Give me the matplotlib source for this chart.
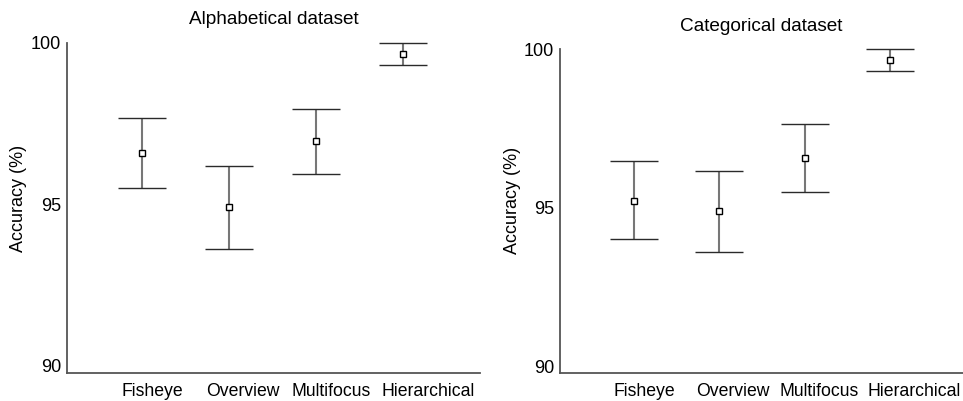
import matplotlib
matplotlib.use("Agg")
import matplotlib.pyplot as plt
import numpy as np

plt.rcParams['font.family'] = ['Liberation Sans', 'DejaVu Sans']

methods = ['Fisheye', 'Overview', 'Multifocus', 'Hierarchical']

# alphabetical dataset: mean, lower end, upper end of error bar
alpha_mean = [96.6, 94.92, 96.95, 99.67]
alpha_low = [95.52, 93.63, 95.93, 99.31]
alpha_high = [97.67, 96.19, 97.97, 100.0]

# categorical dataset
cat_mean = [95.22, 94.91, 96.58, 99.66]
cat_low = [94.01, 93.62, 95.51, 99.32]
cat_high = [96.48, 96.17, 97.65, 100.0]

fig = plt.figure(figsize=(9.63, 4.01), dpi=100)
ax1 = fig.add_axes([0.0693, 0.0698, 0.4291, 0.823])
ax2 = fig.add_axes([0.5812, 0.0690, 0.4188, 0.808])

def draw_panel(ax, mean, low, high, title, xlim, ylabel_y):
    x = np.arange(1, len(methods) + 1)
    mean = np.array(mean)
    yerr = [mean - np.array(low), np.array(high) - mean]
    line, caps, bars = ax.errorbar(x, mean, yerr=yerr, fmt='s', ms=4.5,
                                   mfc='white', mec='black', mew=1.0,
                                   ecolor='#777777', elinewidth=1.5,
                                   capsize=17.3, capthick=1.3)
    # caps are drawn as markers, so colour the marker edge
    for c in caps:
        c.set_markeredgecolor('#2a2a2a')
        c.set_clip_on(False)
    for b in bars:
        b.set_clip_on(False)
    line.set_clip_on(False)
    line.set_zorder(5)

    ax.set_xlim(*xlim)
    ax.set_ylim(89.78, 100.0)
    ax.set_yticks([90, 95, 100])
    ax.set_yticklabels(['90', '95', '100'])
    # category labels sit a bit right of the bars in the original
    ax.set_xticks(x + np.array([0.12, 0.16, 0.17, 0.29]))
    ax.set_xticklabels(methods)
    ax.tick_params(axis='both', length=0, colors='black')
    ax.tick_params(axis='x', pad=7, labelsize=12.7)
    ax.tick_params(axis='y', pad=4, labelsize=13)
    for s in ['top', 'right']:
        ax.spines[s].set_visible(False)
    for s in ['left', 'bottom']:
        ax.spines[s].set_color('#555555')
        ax.spines[s].set_linewidth(1.3)
    ax.set_title(title, fontsize=13.7, pad=13.5)
    ax.set_ylabel('Accuracy (%)', fontsize=13)
    ax.yaxis.set_label_coords(-0.097, ylabel_y)

draw_panel(ax1, alpha_mean, alpha_low, alpha_high, 'Alphabetical dataset',
           (0.134, 4.885), 0.53)
draw_panel(ax2, cat_mean, cat_low, cat_high, 'Categorical dataset',
           (0.126, 4.86), 0.535)

fig.savefig('out.png', dpi=100)
